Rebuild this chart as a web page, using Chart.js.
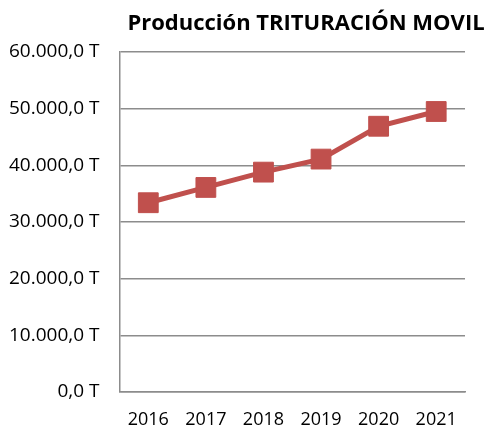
<!DOCTYPE html>
<html>
<head>
<meta charset="utf-8">
<script src="https://cdn.jsdelivr.net/npm/chart.js@4.4.1/dist/chart.umd.min.js"></script>
<style>
  html, body { margin: 0; padding: 0; background: #fff; }
  #wrap { width: 492px; height: 433px; }
</style>
</head>
<body>
<div id="wrap"><canvas id="chart" width="492" height="433"></canvas></div>
<script>
/* Producción TRITURACIÓN MOVIL – line chart */

const CHART_TITLE = "Producción TRITURACIÓN MOVIL";
const YEARS = ["2016", "2017", "2018", "2019", "2020", "2021"];
const PRODUCTION = [33400, 36100, 38800, 41100, 46900, 49500];
const Y_TICKS = [0, 10000, 20000, 30000, 40000, 50000, 60000];

const LINE_COLOR = "#C0504D";
const GRID_COLOR = "#8c8c8c";
const FONT = "'Open Sans', 'Noto Sans', sans-serif";

/* 60000 -> "60.000,0 T" */
function formatTons(v) {
  const intPart = Math.round(v).toString().replace(/\B(?=(\d{3})+(?!\d))/g, ".");
  return intPart + ",0 T";
}

/* Title centred over its own spot like the original */
const titlePlugin = {
  id: "plainTitle",
  afterDraw(chart) {
    const ctx = chart.ctx;
    ctx.save();
    ctx.font = "bold 22px " + FONT;
    ctx.fillStyle = "#000";
    ctx.textAlign = "center";
    ctx.textBaseline = "alphabetic";
    ctx.fillText(CHART_TITLE, 306, 30);
    ctx.restore();
  }
};

new Chart(document.getElementById("chart"), {
  type: "line",
  data: {
    labels: YEARS,
    datasets: [
      {
        label: CHART_TITLE,
        data: PRODUCTION,
        borderColor: LINE_COLOR,
        backgroundColor: LINE_COLOR,
        borderWidth: 5,
        pointStyle: "rect",
        pointRadius: 14,
        pointHoverRadius: 14,
        pointBorderWidth: 1,
        pointBorderColor: LINE_COLOR,
        pointBackgroundColor: LINE_COLOR,
        tension: 0
      }
    ]
  },
  options: {
    responsive: false,
    animation: false,
    layout: { padding: { top: 52, right: 27, bottom: 1, left: 0 } },
    plugins: {
      legend: { display: false },
      title: { display: false },
      tooltip: { enabled: false }
    },
    scales: {
      x: {
        offset: true,
        afterFit(scale) {
          scale.height = 40;
        },
        grid: { display: false, drawTicks: false },
        border: { display: true, color: GRID_COLOR, width: 1.5 },
        ticks: {
          color: "#000",
          padding: 17,
          font: { family: FONT, size: 18 }
        }
      },
      y: {
        min: 0,
        max: 60000,
        afterBuildTicks(scale) {
          scale.ticks = Y_TICKS.map((v) => ({ value: v }));
        },
        afterFit(scale) {
          scale.width = 119.5;
        },
        grid: { color: GRID_COLOR, lineWidth: 1.5, drawTicks: false },
        border: { display: true, color: GRID_COLOR, width: 1.5 },
        ticks: {
          color: "#000",
          padding: 20,
          font: { family: FONT, size: 19 },
          callback: (v) => formatTons(v)
        }
      }
    }
  },
  plugins: [titlePlugin]
});
</script>
</body>
</html>
